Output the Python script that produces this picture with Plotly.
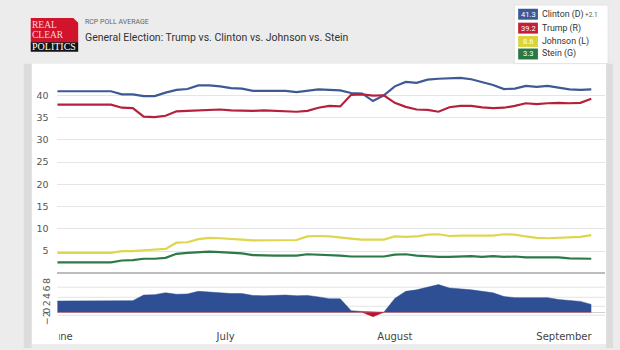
import plotly.graph_objects as go
import pandas as pd

W, H = 620, 350

# ---- data (every 2 days, May 31 -> Sep 6, 2016) ----
dates = pd.date_range("2016-05-31", "2016-09-06", freq="2D")

clinton = [40.9, 40.9, 40.9, 40.9, 40.9, 40.9, 40.2, 40.2, 39.8, 39.8,
           40.6, 41.2, 41.4, 42.2, 42.2, 42.0, 41.6, 41.5, 41.0, 41.0,
           41.0, 41.0, 40.7, 41.0, 41.3, 41.2, 41.1, 40.5, 40.4, 38.7,
           40.0, 42.0, 43.0, 42.8, 43.5, 43.7, 43.8, 43.9, 43.6, 42.9,
           42.3, 41.4, 41.5, 42.1, 41.9, 42.1, 41.7, 41.3, 41.2, 41.3]
trump = [37.9, 37.9, 37.9, 37.9, 37.9, 37.9, 37.2, 37.1, 35.2, 35.1,
         35.4, 36.4, 36.5, 36.6, 36.8, 36.8, 36.6, 36.5, 36.5, 36.6,
         36.5, 36.4, 36.3, 36.5, 37.2, 37.6, 37.5, 40.1, 40.2, 39.9,
         40.0, 38.3, 37.4, 36.8, 36.7, 36.3, 37.3, 37.6, 37.6, 37.3,
         37.1, 37.2, 37.6, 38.2, 38.0, 38.2, 38.3, 38.2, 38.3, 39.2]
johnson = [4.6, 4.6, 4.6, 4.6, 4.6, 4.6, 5.0, 5.0, 5.2, 5.3,
           5.5, 6.9, 7.0, 7.7, 8.0, 7.9, 7.8, 7.6, 7.4, 7.4,
           7.4, 7.4, 7.5, 8.3, 8.4, 8.3, 8.0, 7.8, 7.6, 7.6,
           7.6, 8.3, 8.2, 8.3, 8.7, 8.8, 8.4, 8.5, 8.5, 8.6,
           8.5, 8.8, 8.7, 8.3, 8.0, 7.9, 8.0, 8.2, 8.2, 8.6]
stein = [2.5, 2.5, 2.5, 2.5, 2.5, 2.5, 2.9, 3.0, 3.3, 3.3,
         3.5, 4.4, 4.6, 4.8, 4.9, 4.8, 4.6, 4.5, 4.1, 4.0,
         4.0, 4.0, 4.0, 4.3, 4.2, 4.2, 4.0, 3.8, 3.8, 3.7,
         3.8, 4.2, 4.3, 4.0, 3.8, 3.7, 3.7, 3.8, 3.9, 3.7,
         3.9, 3.7, 3.8, 3.6, 3.6, 3.5, 3.6, 3.4, 3.4, 3.3]

names = ["Clinton (D)", "Trump (R)", "Johnson (L)", "Stein (G)"]
latest = ["41.3", "39.2", "8.6", "3.3"]
colors = ["#3d5a94", "#b5213d", "#ddd64e", "#2b7a47"]
badge_colors = ["#3b5999", "#c21f3a", "#d9d43c", "#2a7745"]

month_ticks = ["2016-06-01", "2016-07-01", "2016-08-01", "2016-09-01"]
month_labels = ["June", "July", "August", "September"]
main_ticks = [5, 10, 15, 20, 25, 30, 35, 40]
spread_ticks = [-2, 0, 2, 4, 6, 8]
spread_grid = [6.7, 4.0, 1.6, -0.8]

spread = [c - t for c, t in zip(clinton, trump)]
pos = [max(s, 0) for s in spread]
neg = [min(s, 0) for s in spread]


def px(x):
    return x / W


def py(y):
    return 1 - y / H


fig = go.Figure()
for vals, name, col in zip([clinton, trump, johnson, stein], names, colors):
    fig.add_trace(go.Scatter(x=dates, y=vals, name=name, mode="lines",
                             line=dict(color=col, width=2.2), xaxis="x", yaxis="y",
                             hoverinfo="skip"))

fig.add_trace(go.Scatter(x=dates, y=pos, mode="lines", fill="tozeroy",
                         fillcolor="#2e4f94", line=dict(color="#2e4f94", width=0.5),
                         xaxis="x2", yaxis="y2", hoverinfo="skip"))
fig.add_trace(go.Scatter(x=dates, y=neg, mode="lines", fill="tozeroy",
                         fillcolor="#c4102e", line=dict(color="#c4102e", width=0.5),
                         xaxis="x2", yaxis="y2", hoverinfo="skip"))

xr = ["2016-05-31 04:30", "2016-09-08 13:00"]
xdom = [px(51), px(605)]

shapes = []
ann = []

# background panels
shapes.append(dict(type="rect", xref="paper", yref="paper", x0=px(25), x1=px(606),
                   y0=py(346), y1=py(64), fillcolor="#ffffff", line=dict(width=0), layer="below"))
shapes.append(dict(type="rect", xref="paper", yref="paper", x0=px(17), x1=px(25),
                   y0=py(350), y1=py(64), fillcolor="#dcdcdc", line=dict(width=0), layer="below"))
shapes.append(dict(type="rect", xref="paper", yref="paper", x0=px(606), x1=px(613),
                   y0=py(350), y1=py(64), fillcolor="#dcdcdc", line=dict(width=0), layer="below"))

# spread grid lines
for g in spread_grid:
    shapes.append(dict(type="line", xref="x2 domain", yref="y2", x0=0, x1=1, y0=g, y1=g,
                       line=dict(color="#e3e3e3", width=1), layer="below"))

# cover clipped 'J'
shapes.append(dict(type="rect", xref="paper", yref="paper", x0=px(38), x1=px(52.5),
                   y0=py(346), y1=py(327), fillcolor="#ffffff", line=dict(width=0), layer="above"))

# logo
shapes.append(dict(type="path", xref="paper", yref="paper",
                   path="M %f %f L %f %f L %f %f L %f %f L %f %f Z" % (
                       px(24), py(18), px(67), py(18), px(72), py(23), px(72), py(43), px(24), py(43)),
                   fillcolor="#d0142c", line=dict(width=0)))
shapes.append(dict(type="rect", xref="paper", yref="paper", x0=px(24), x1=px(72),
                   y0=py(52), y1=py(42.5), fillcolor="#141414", line=dict(width=0)))
for t, yy, sz, c in [("REAL", 25.0, 9.5, "#f6d6da"), ("CLEAR", 35.0, 9.5, "#f6d6da"), ("POLITICS", 47.5, 10, "#ffffff")]:
    ann.append(dict(xref="paper", yref="paper", x=px(24), y=py(yy), xanchor="left", yanchor="middle",
                    text=t, showarrow=False, height=9.5, borderpad=0,
                    font=dict(family="Liberation Serif, DejaVu Serif, serif", size=sz, color=c)))

ann.append(dict(xref="paper", yref="paper", x=px(78), y=py(22.5), xanchor="left", yanchor="middle",
                text="RCP POLL AVERAGE", showarrow=False, borderpad=0,
                font=dict(family="Roboto, Liberation Sans, sans-serif", size=7, color="#666666")))
ann.append(dict(xref="paper", yref="paper", x=px(78), y=py(37.5), xanchor="left", yanchor="middle",
                text="General Election: Trump vs. Clinton vs. Johnson vs. Stein", showarrow=False, borderpad=0,
                font=dict(family="Roboto, Liberation Sans, sans-serif", size=10.5, color="#333333")))

# legend box
shapes.append(dict(type="rect", xref="paper", yref="paper", x0=px(513), x1=px(608),
                   y0=py(64), y1=py(5), fillcolor="#ffffff", line=dict(color="#e2e2e2", width=1)))
rows = [14.3, 28.3, 41.7, 54.3]
for i in range(4):
    yc = rows[i]
    shapes.append(dict(type="rect", xref="paper", yref="paper", x0=px(517), x1=px(537),
                       y0=py(yc + 5.5), y1=py(yc - 5.5), fillcolor=badge_colors[i], line=dict(width=0)))
    ann.append(dict(xref="paper", yref="paper", x=px(527), y=py(yc), xanchor="center", yanchor="middle",
                    text=latest[i], showarrow=False, borderpad=0,
                    font=dict(family="Roboto, Liberation Sans, sans-serif", size=7.5, color="#ffffff")))
    ann.append(dict(xref="paper", yref="paper", x=px(540.5), y=py(yc), xanchor="left", yanchor="middle",
                    text=names[i], showarrow=False, borderpad=0,
                    font=dict(family="Roboto, Liberation Sans, sans-serif", size=8.8, color="#333333")))
ann.append(dict(xref="paper", yref="paper", x=px(584), y=py(14.8), xanchor="left", yanchor="middle",
                text="+2.1", showarrow=False, borderpad=0,
                font=dict(family="Roboto, Liberation Sans, sans-serif", size=6.5, color="#555555")))

tickfont = dict(family="DejaVu Sans, Verdana, sans-serif", size=9.5, color="#555555")

fig.update_layout(
    width=W, height=H, margin=dict(l=0, r=0, t=0, b=0),
    paper_bgcolor="#ececec", plot_bgcolor="rgba(0,0,0,0)",
    showlegend=False, shapes=shapes, annotations=ann,
    xaxis=dict(domain=xdom, range=xr, type="date", showticklabels=False, showgrid=False,
               zeroline=False, anchor="y", showline=False, fixedrange=True),
    yaxis=dict(domain=[py(275), py(73.4)], range=[0, 45], tickvals=main_ticks,
               showgrid=True, gridcolor="#e5e5e5", gridwidth=1, zeroline=True,
               zerolinecolor="#bdbdbd", zerolinewidth=2, tickfont=tickfont,
               ticks="outside", ticklen=6, tickcolor="rgba(0,0,0,0)", anchor="x", showline=False),
    xaxis2=dict(domain=xdom, range=xr, type="date", tickvals=month_ticks, ticktext=month_labels,
                showgrid=False, zeroline=False, anchor="y2", showline=False,
                tickfont=dict(family="DejaVu Sans, Verdana, sans-serif", size=10, color="#444444"),
                ticks="outside", ticklen=4, tickcolor="rgba(0,0,0,0)"),
    yaxis2=dict(domain=[py(325.25), py(276.5)], range=[-3, 10], tickvals=spread_ticks,
                showgrid=False, zeroline=True, zerolinecolor="#d0d0d0", zerolinewidth=1,
                tickangle=-90, tickfont=dict(family="DejaVu Sans, Verdana, sans-serif", size=9.5, color="#555555"),
                ticks="outside", ticklen=3, tickcolor="rgba(0,0,0,0)", anchor="x2", showline=False),
)

fig.write_html("out.html")
